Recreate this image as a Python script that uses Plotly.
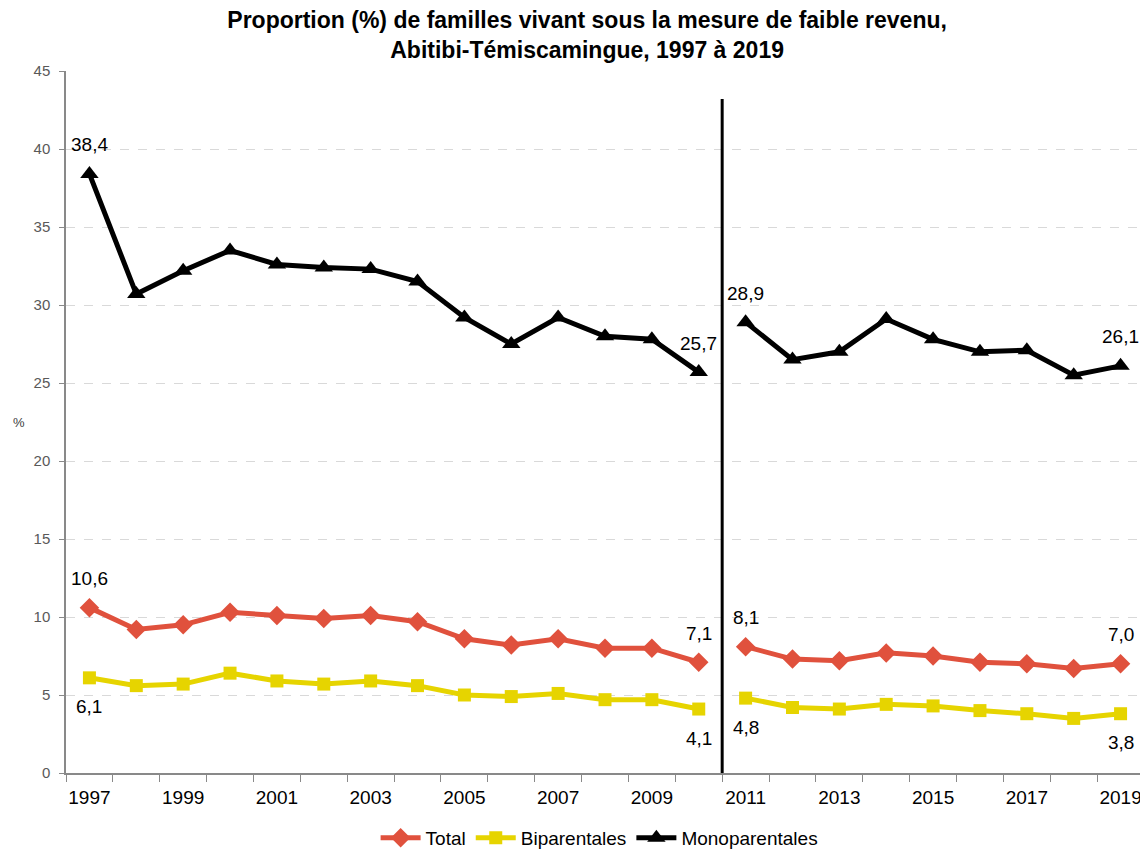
import plotly.graph_objects as go

years = list(range(1997, 2020))
total = [10.6, 9.2, 9.5, 10.3, 10.1, 9.9, 10.1, 9.7, 8.6, 8.2, 8.6, 8.0, 8.0, 7.1,
         8.1, 7.3, 7.2, 7.7, 7.5, 7.1, 7.0, 6.7, 7.0]
biparentales = [6.1, 5.6, 5.7, 6.4, 5.9, 5.7, 5.9, 5.6, 5.0, 4.9, 5.1, 4.7, 4.7, 4.1,
                4.8, 4.2, 4.1, 4.4, 4.3, 4.0, 3.8, 3.5, 3.8]
monoparentales = [38.4, 30.7, 32.2, 33.5, 32.6, 32.4, 32.3, 31.5, 29.2, 27.5, 29.2, 28.0, 27.8, 25.7,
                  28.9, 26.5, 27.0, 29.1, 27.8, 27.0, 27.1, 25.5, 26.1]
tick_years = list(range(1997, 2020, 2))
break_after = 2010
labelled_years = [1997, 2010, 2011, 2019]

series = [
    ("Total", total, "#E0513D", "diamond", 15, 1),
    ("Biparentales", biparentales, "#E6D400", "square", 13, -1),
    ("Monoparentales", monoparentales, "#000000", "triangle-up", 16, 1),
]

FONT = "Liberation Sans, Arial, sans-serif"

fig = go.Figure()
for name, vals, color, symbol, msize, side in series:
    segs = [[i for i, y in enumerate(years) if y <= break_after],
            [i for i, y in enumerate(years) if y > break_after]]
    for k, idx in enumerate(segs):
        fig.add_trace(go.Scatter(
            x=[years[i] for i in idx], y=[vals[i] for i in idx],
            mode="lines+markers", name=name, legendgroup=name,
            showlegend=(k == 0),
            line=dict(color=color, width=5),
            marker=dict(symbol=symbol, size=msize, color=color),
        ))
    for yr in labelled_years:
        v = vals[years.index(yr)]
        fig.add_annotation(
            x=yr, y=v, xref="x", yref="y", showarrow=False,
            text=f"{v:.1f}".replace(".", ","),
            yshift=29 * side,
            font=dict(family=FONT, size=19, color="#000000"),
        )

fig.add_shape(type="line", xref="x", yref="y",
              x0=break_after + 0.5, x1=break_after + 0.5, y0=-0.4, y1=43.2,
              line=dict(color="#000000", width=3))

fig.add_annotation(text="%", xref="paper", yref="paper", x=-0.044, y=0.5,
                   xanchor="center", showarrow=False,
                   font=dict(family=FONT, size=13, color="#404040"))

fig.update_layout(
    width=1140, height=842,
    margin=dict(l=58, r=4, t=63, b=77, autoexpand=False),
    paper_bgcolor="#FFFFFF", plot_bgcolor="#FFFFFF",
    title=dict(
        text="<b>Proportion (%) de familles vivant sous la mesure de faible revenu,<br>Abitibi-Témiscamingue, 1997 à 2019</b>",
        x=0.508, xanchor="center", xref="container",
        y=0.976, yanchor="middle", yref="container",
        font=dict(family=FONT, size=23, color="#000000"),
    ),
    showlegend=True,
    legend=dict(orientation="h", x=0.495, xanchor="center", y=-0.0926, yanchor="middle",
                font=dict(family=FONT, size=19, color="#000000"),
                itemwidth=40, tracegroupgap=0),
    xaxis=dict(
        range=[1996.5, 2019.5], tickmode="array", tickvals=tick_years,
        ticktext=[str(y) for y in tick_years], ticks="",
        tickfont=dict(family=FONT, size=19, color="#000000"),
        ticklabelstandoff=6,
        showgrid=False, zeroline=False, showline=True, linecolor="#898989", linewidth=1.5,
        minor=dict(tick0=1996.5, dtick=1, ticks="outside", ticklen=7, tickcolor="#898989", showgrid=False),
    ),
    yaxis=dict(
        range=[0, 45], tickmode="linear", tick0=0, dtick=5,
        ticks="outside", ticklen=5, tickcolor="#898989",
        tickfont=dict(family=FONT, size=15, color="#595959"),
        ticklabelstandoff=6,
        showgrid=True, gridcolor="#D9D9D9", griddash="dash", gridwidth=1,
        zeroline=False, showline=True, linecolor="#898989", linewidth=1.5,
    ),
)

fig.write_html("out.html")
